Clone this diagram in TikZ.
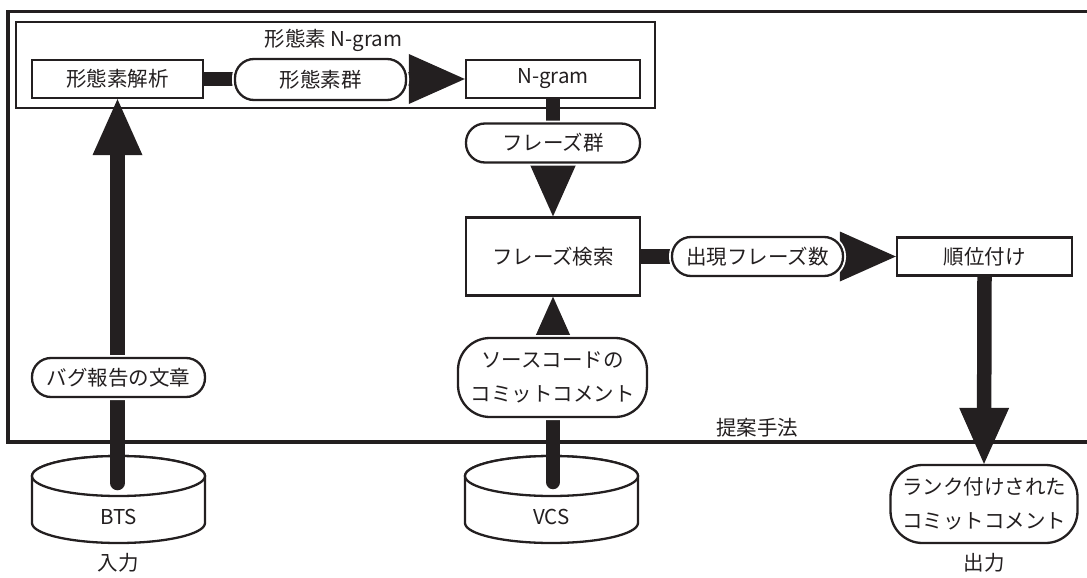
\documentclass[tikz,border=0pt]{standalone}
\usepackage{fontspec}
\setmainfont{Noto Sans CJK JP}
\usetikzlibrary{arrows.meta}
\definecolor{ink}{HTML}{231F20}
\begin{document}
\begin{tikzpicture}[x=1pt,y=-1pt,
  every node/.style={font=\fontsize{20.5}{24}\selectfont, inner sep=0pt, text=ink},
  procbox/.style={draw=ink, line width=2.3pt, fill=white, minimum height=38pt},
  databox/.style={draw=ink, line width=2.3pt, fill=white, rounded corners=19pt,
    minimum height=39pt, preaction={draw=white, line width=6pt}},
  twoline/.style={databox, rounded corners=32pt, align=center,
    font=\fontsize{20.5}{34}\selectfont},
  flow/.style={draw=ink, line width=14.5pt,
    -{Triangle[length=56pt, width=50pt, line width=0pt]}},
  frame/.style={draw=ink, line width=3.2pt},
  group/.style={draw=ink, line width=2.6pt},
  store/.style={draw=ink, line width=2.3pt, fill=white},
]
\useasboundingbox (0,0) rectangle (1087,578);
\clip (0,0) rectangle (1087,578);

% method frame and the morpheme N-gram group
\draw[frame] (8,11.5) rectangle (1100,442);
\draw[group] (16,22) rectangle (655,108);
\node (methodtitle) at (757,428) {提案手法};
\node (grouptitle) at (333.5,40) {形態素 N-gram};

% data stores
\draw[store] (32,476) -- (32,523)
  arc[start angle=180, end angle=360, x radius=86.5pt, y radius=20pt]
  -- (205,476)
  arc[start angle=0, end angle=180, x radius=86.5pt, y radius=20pt] -- cycle;
\draw[store] (118.5,476) ellipse[x radius=86.5pt, y radius=20pt];
\draw[store] (465,476) -- (465,523)
  arc[start angle=180, end angle=360, x radius=86.5pt, y radius=20pt]
  -- (638,476)
  arc[start angle=0, end angle=180, x radius=86.5pt, y radius=20pt] -- cycle;
\draw[store] (551.5,476) ellipse[x radius=86.5pt, y radius=20pt];
\node (bts) at (118.5,517) {BTS};
\node (vcs) at (551.5,517) {VCS};
\node (inlabel) at (118,563) {入力};
\node (outlabel) at (984,563) {出力};
\coordinate (btsport) at (117.5,483);
\coordinate (vcsport) at (553,482);

% processing steps
\node[procbox, minimum width=171pt] (morph) at (117.5,79) {形態素解析};
\node[procbox, minimum width=174pt] (ngram) at (553,79) {N-gram};
\node[procbox, minimum width=174pt, minimum height=78pt] (search) at (553,256.5) {フレーズ検索};
\node[procbox, minimum width=175pt] (rank) at (984.5,256.5) {順位付け};
\node[twoline, minimum width=187pt, minimum height=78pt] (result) at (984,504) {ランク付けされた\\コミットコメント};

% flows
\draw[flow, line cap=round] (btsport) -- (morph.south);
\draw[flow] (morph.east) -- (ngram.west);
\draw[flow] (ngram.south) -- (search.north);
\draw[flow, line cap=round] (vcsport) -- (search.south);
\draw[flow] (search.east) -- (rank.west);
\draw[flow] (rank.south) -- (result.north);

% data carried along the flows
\node[databox, minimum width=171pt, minimum height=41pt] (morphs) at (320.5,79.5) {形態素群};
\node[databox, minimum width=174pt] (phrases) at (553,143) {フレーズ群};
\node[databox, minimum width=171pt] (counts) at (757.5,256.5) {出現フレーズ数};
\node[databox, minimum width=173pt] (report) at (118.5,377.5) {バグ報告の文章};
\node[twoline, minimum width=189pt, minimum height=79pt] (comments) at (552.5,377.5) {ソースコードの\\コミットコメント};
\end{tikzpicture}
\end{document}
